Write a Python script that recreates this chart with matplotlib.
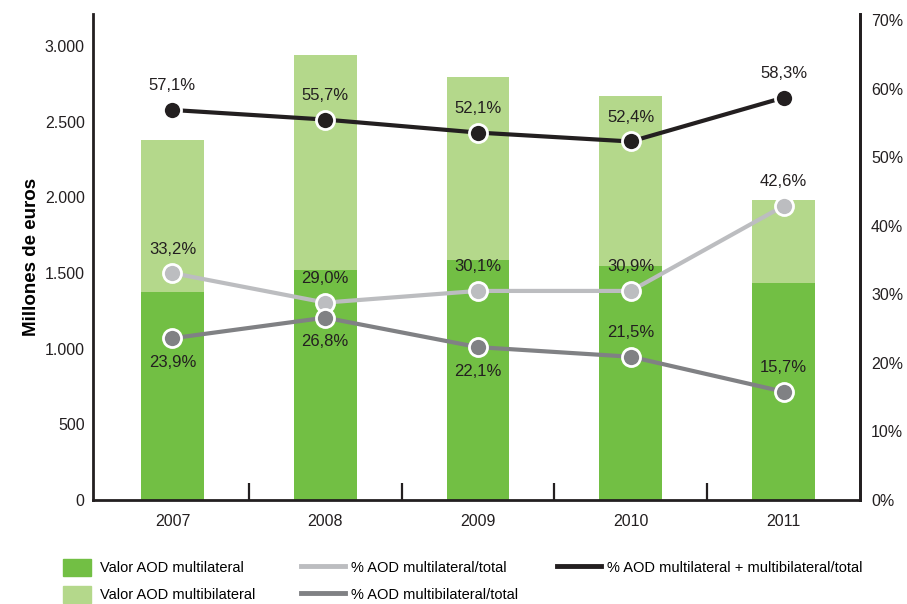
import numpy as np
import matplotlib
matplotlib.use('Agg')
import matplotlib.pyplot as plt
from matplotlib.patches import Patch
from matplotlib.lines import Line2D

plt.rcParams['font.family'] = ['Liberation Sans', 'DejaVu Sans']

# datos
years = ['2007', '2008', '2009', '2010', '2011']
multilateral = [1375, 1520, 1586, 1547, 1434]          # millones de euros
multibilateral = [1004, 1421, 1210, 1123, 549]
pct_multi_total = [33.1, 28.8, 30.5, 30.5, 42.9]        # % posicion en el grafico
pct_multibi_total = [23.6, 26.6, 22.3, 20.9, 15.8]
pct_suma_total = [56.9, 55.5, 53.6, 52.3, 58.7]
lab_multi = ['33,2%', '29,0%', '30,1%', '30,9%', '42,6%']
lab_multibi = ['23,9%', '26,8%', '22,1%', '21,5%', '15,7%']
lab_suma = ['57,1%', '55,7%', '52,1%', '52,4%', '58,3%']
pos_multibi = ['below', 'below', 'below', 'above', 'above']

c_dark = '#72bf44'
c_light = '#b4d88b'
c_black = '#231f20'
c_lgrey = '#bcbdc0'
c_dgrey = '#808184'

fig = plt.figure(figsize=(9.07, 6.04), dpi=100)
ax = fig.add_axes([93/907, 1-500/604, (860-93)/907, (500-14)/604])
x = np.arange(len(years))
ax.bar(x, multilateral, width=0.41, color=c_dark, zorder=2)
ax.bar(x, multibilateral, width=0.41, bottom=multilateral, color=c_light, zorder=2)
ax.set_xlim(-0.52, 4.5)
ax.set_ylim(0, 3212)
ax.set_yticks([0, 500, 1000, 1500, 2000, 2500, 3000])
ax.set_yticklabels(['0', '500', '1.000', '1.500', '2.000', '2.500', '3.000'])
ax.set_xticks(x)
ax.set_xticklabels(years)
ax.set_xticks([0.5, 1.5, 2.5, 3.5], minor=True)
ax.tick_params(axis='x', which='major', length=0, pad=10, labelsize=11.5, colors='#231f20')
ax.tick_params(axis='x', which='minor', direction='in', length=12, width=1.6, color=c_black)
ax.tick_params(axis='y', length=0, pad=6, labelsize=11.5, colors='#231f20')
ax.set_ylabel('Millones de euros', fontsize=13.5, fontweight='bold', labelpad=3)
for s in ['left', 'bottom', 'right']:
    ax.spines[s].set_linewidth(2)
    ax.spines[s].set_color(c_black)
ax.spines['top'].set_visible(False)

ax2 = ax.twinx()
ax2.set_ylim(0, 70.9)
ax2.set_yticks(range(0, 71, 10))
ax2.set_yticklabels([f'{v}%' for v in range(0, 71, 10)])
ax2.tick_params(axis='y', length=0, pad=8, labelsize=11.5, colors='#231f20')
for s in ['top', 'left', 'bottom']:
    ax2.spines[s].set_visible(False)
ax2.spines['right'].set_linewidth(2)
ax2.spines['right'].set_color(c_black)

for vals, col in [(pct_multi_total, c_lgrey), (pct_multibi_total, c_dgrey), (pct_suma_total, c_black)]:
    ax2.plot(x, vals, color=col, lw=3, marker='o', ms=13, mfc=col, mec='white', mew=2, zorder=3)

off = 24
for i in range(len(years)):
    ax2.annotate(lab_suma[i], (x[i], pct_suma_total[i]), xytext=(0, off), textcoords='offset pixels',
                 ha='center', va='center', fontsize=12, color='#231f20')
    ax2.annotate(lab_multi[i], (x[i], pct_multi_total[i]), xytext=(0, off), textcoords='offset pixels',
                 ha='center', va='center', fontsize=12, color='#231f20')
    d = -off if pos_multibi[i] == 'below' else off
    ax2.annotate(lab_multibi[i], (x[i], pct_multibi_total[i]), xytext=(0, d), textcoords='offset pixels',
                 ha='center', va='center', fontsize=12, color='#231f20')

# leyenda
h1 = [Patch(color=c_dark), Patch(color=c_light)]
fig.legend(h1, ['Valor AOD multilateral', 'Valor AOD multibilateral'], loc='upper left',
           bbox_to_anchor=(50/907, 1-546/604), frameon=False, fontsize=10.5, handlelength=1.9,
           handleheight=1.4, labelspacing=0.7, handletextpad=0.6)
h2 = [Line2D([], [], color=c_lgrey, lw=3.5), Line2D([], [], color=c_dgrey, lw=3.5)]
fig.legend(h2, ['% AOD multilateral/total', '% AOD multibilateral/total'], loc='upper left',
           bbox_to_anchor=(288/907, 1-546/604), frameon=False, fontsize=10.5, handlelength=3,
           handleheight=1.4, labelspacing=0.7, handletextpad=0.45)
h3 = [Line2D([], [], color=c_black, lw=3.5)]
fig.legend(h3, ['% AOD multilateral + multibilateral/total'], loc='upper left',
           bbox_to_anchor=(544/907, 1-546/604), frameon=False, fontsize=10.5, handlelength=3,
           handleheight=1.4, labelspacing=0.7, handletextpad=0.45)

fig.savefig('out.png', dpi=100)
